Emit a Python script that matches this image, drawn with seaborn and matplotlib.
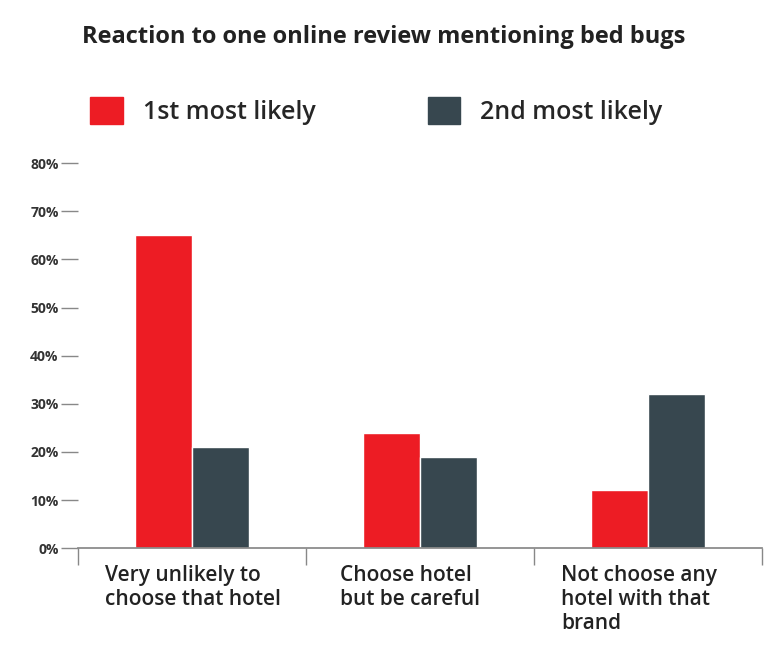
import matplotlib
matplotlib.use("Agg")
import matplotlib.pyplot as plt
import seaborn as sns
import pandas as pd
from matplotlib.patches import Patch

categories = ["Very unlikely to\nchoose that hotel", "Choose hotel\nbut be careful", "Not choose any\nhotel with that\nbrand"]
series = ["1st most likely", "2nd most likely"]
first = [65, 24, 12]
second = [21, 19, 32]
yticks = [0, 10, 20, 30, 40, 50, 60, 70, 80]
colors = ["#ED1C24", "#37474F"]

sns.set_theme(style="white")
plt.rcParams['font.family'] = ['Open Sans', 'DejaVu Sans']

df = pd.DataFrame({
    "cat": categories * 2,
    "series": [series[0]] * 3 + [series[1]] * 3,
    "val": first + second,
})

fig = plt.figure(figsize=(7.68, 6.45), dpi=100)
ax = fig.add_axes([0.1016, 0.150, 0.8904, 0.597])
sns.barplot(data=df, x="cat", y="val", hue="series", palette=colors, width=0.5,
            gap=0, ax=ax, legend=False, saturation=1)
ax.set_xlim(-0.5, 2.5)
ax.set_ylim(0, 80)
ax.set_yticks(yticks)
ax.set_yticklabels([f"{t}%" for t in yticks], fontsize=10, fontweight="bold", color="#333333")
ax.set_xlabel("")
ax.set_ylabel("")
ax.set_xticks([])
ax.set_xticks([-0.5, 0.5, 1.5, 2.5], minor=True)
ax.tick_params(axis="x", which="minor", direction="out", length=12, width=1, color="#888888", bottom=True)
ax.tick_params(axis="y", direction="out", length=12, width=1, color="#888888", left=True, pad=2)
for s in ["top", "right", "left"]:
    ax.spines[s].set_visible(False)
ax.spines["bottom"].set_color("#888888")

offs = [0.12, 0.15, 0.12]
for i, c in enumerate(categories):
    ax.text(i - 0.5 + offs[i], -3.5, c, ha="left", va="top", fontsize=15,
            fontweight="semibold", color="#222222", linespacing=1.2)

fig.text(0.5, 0.942, "Reaction to one online review mentioning bed bugs", ha="center",
         va="center", fontsize=17, fontweight="bold", color="#222222")

fig.legend(handles=[Patch(color=colors[0], label=series[0]), Patch(color=colors[1], label=series[1])],
           loc="center", bbox_to_anchor=(0.49, 0.828), ncol=2, frameon=False,
           fontsize=18, handlelength=1.3, handleheight=1.3, columnspacing=4.5,
           prop={"weight": "semibold", "size": 18})

fig.savefig("out.png", dpi=100)
